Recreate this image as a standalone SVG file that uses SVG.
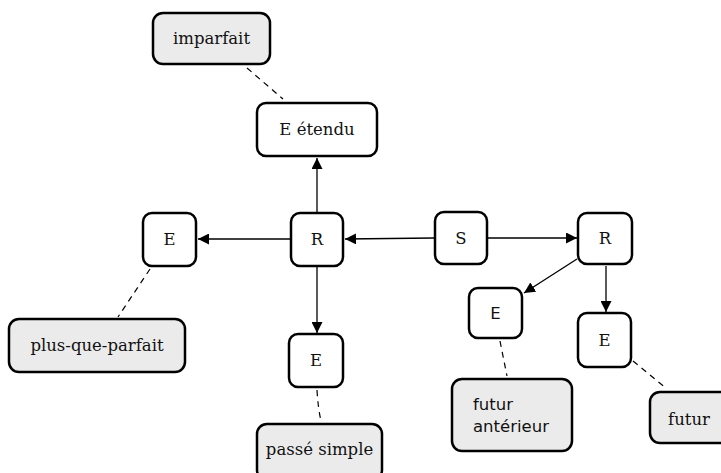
<svg xmlns="http://www.w3.org/2000/svg" width="721" height="473" viewBox="0 0 721 473">
<style>
.box{fill:#fff;stroke:#000;stroke-width:2.5}
.lab{fill:#ebebeb;stroke:#000;stroke-width:2.5}
.t{font-family:"DejaVu Serif","Liberation Serif",serif;font-size:16.5px;fill:#111;text-anchor:middle}
.s{font-family:"DejaVu Sans","Liberation Sans",sans-serif;font-size:16.5px;fill:#111}
.arr{stroke:#000;stroke-width:1.3;fill:none;marker-end:url(#ah)}
.dash{stroke:#000;stroke-width:1.2;fill:none;stroke-dasharray:6,5}
</style>
<defs>
<marker id="ah" viewBox="0 0 10 10" refX="10" refY="5" markerWidth="11" markerHeight="11" markerUnits="userSpaceOnUse" orient="auto">
<path d="M0,0 L10,5 L0,10 z" fill="#000"/>
</marker>
</defs>
<g id="connectors">
<line class="arr" x1="317" y1="212" x2="317" y2="158"/>
<line class="arr" x1="290" y1="239" x2="198" y2="239"/>
<line class="arr" x1="434" y1="238" x2="345" y2="239"/>
<line class="arr" x1="488" y1="238" x2="577" y2="238"/>
<line class="arr" x1="317" y1="267" x2="317" y2="333"/>
<line class="arr" x1="577" y1="259" x2="524" y2="293"/>
<line class="arr" x1="606" y1="266" x2="606" y2="312"/>
<line class="dash" x1="247" y1="68" x2="283" y2="99"/>
<line class="dash" x1="150" y1="269" x2="118" y2="317"/>
<path class="dash" d="M317,390 Q318,408 321,421"/>
<line class="dash" x1="500" y1="341" x2="507" y2="376"/>
<line class="dash" x1="633" y1="361" x2="667" y2="389"/>
</g>
<g id="imparfait"><rect class="lab" x="153" y="13" width="117" height="51" rx="10"/><text class="t" x="211.5" y="44">imparfait</text></g>
<g id="e-etendu"><rect class="box" x="257" y="103" width="120" height="53" rx="9"/><text class="t" x="317" y="135">E étendu</text></g>
<g id="e-left"><rect class="box" x="143" y="213" width="53" height="53" rx="9"/><text class="t" x="169.5" y="245">E</text></g>
<g id="r-left"><rect class="box" x="291" y="213" width="52" height="53" rx="9"/><text class="t" x="317" y="245">R</text></g>
<g id="s"><rect class="box" x="435" y="212" width="52" height="52" rx="9"/><text class="t" x="461" y="244">S</text></g>
<g id="r-right"><rect class="box" x="578" y="213" width="54" height="51" rx="9"/><text class="t" x="605" y="244">R</text></g>
<g id="plus-que-parfait"><rect class="lab" x="9" y="319" width="176" height="53" rx="10"/><text class="t" x="97" y="351">plus-que-parfait</text></g>
<g id="e-mid"><rect class="box" x="289" y="334" width="54" height="53" rx="9"/><text class="t" x="316" y="366">E</text></g>
<g id="passe-simple"><rect class="lab" x="257" y="424" width="125" height="56" rx="10"/><text class="t" x="319.5" y="455">passé simple</text></g>
<g id="e-futant"><rect class="box" x="469" y="288" width="53" height="50" rx="9"/><text class="s" x="495.5" y="319" text-anchor="middle">E</text></g>
<g id="e-futur"><rect class="box" x="578" y="313" width="53" height="54" rx="9"/><text class="t" x="604.5" y="346">E</text></g>
<g id="futur-anterieur"><rect class="lab" x="452" y="379" width="120" height="72" rx="10"/><text class="s" x="473" y="410">futur</text><text class="s" x="473" y="432">antérieur</text></g>
<g id="futur"><rect class="lab" x="650" y="392" width="80" height="51" rx="10"/><text class="t" x="689" y="425">futur</text></g>
</svg>
